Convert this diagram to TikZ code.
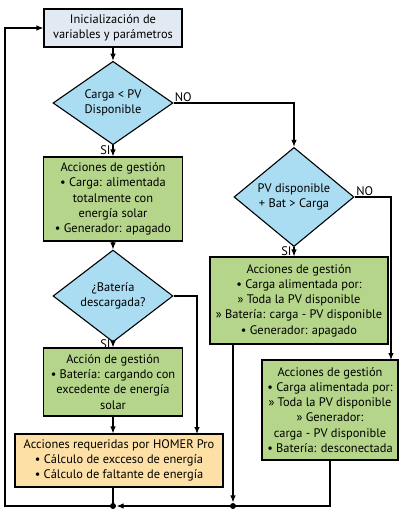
\documentclass[tikz,border=0pt]{standalone}
\usepackage{fontspec}
\setmainfont{PT Sans}
\usepackage{tikz}
\usetikzlibrary{arrows.meta}
\usetikzlibrary{shapes.geometric}
\definecolor{startfill}{HTML}{E1EAF2}
\definecolor{askfill}{HTML}{AADCF2}
\definecolor{actfill}{HTML}{B5D58A}
\definecolor{homerfill}{HTML}{FDE0A6}

\begin{document}
\begin{tikzpicture}[x=1pt,y=-1pt,line width=1.1pt,>={Latex[length=7pt,width=5.5pt]},
	every node/.style={font=\fontsize{12.4}{15.2}\selectfont, align=center, inner sep=0pt},
	box/.style={draw, rectangle, fill=actfill},
	ask/.style={draw, diamond, fill=askfill, minimum width=120pt, minimum height=69pt},
	dot/.style={circle, fill=black, minimum size=6pt}]
	
	\useasboundingbox (0,0) rectangle (400,516);
	
	\node[box, fill=startfill, minimum width=138pt, minimum height=38pt] (init) at (113,28) {Inicialización de\\variables y parámetros};
	\node[ask] (carga) at (113,103) {Carga < PV\\Disponible};
	\node[box, minimum width=139pt, minimum height=84pt] (solar) at (113,199) {Acciones de gestión\\• Carga: alimentada\\totalmente con\\energía solar\\• Generador: apagado};
	\node[ask] (bat) at (113,296) {¿Batería\\descargada?};
	\node[box, minimum width=139pt, minimum height=68pt] (cargando) at (113,382) {Acción de gestión\\• Batería: cargando con\\excedente de energía\\solar};
	\node[box, fill=homerfill, minimum width=208pt, minimum height=53pt] (homer) at (119,460.5) {Acciones requeridas por HOMER Pro\\• Cálculo de excceso de energía\\• Cálculo de faltante de energía};
	\node[ask] (pvbat) at (294,197) {PV disponible\\+ Bat > Carga};
	\node[box, minimum width=178pt, minimum height=87pt] (conbat) at (299,300.5) {Acciones de gestión\\• Carga alimentada por:\\» Toda la PV disponible\\» Batería: carga - PV disponible\\• Generador: apagado};
	\node[box, minimum width=136pt, minimum height=100pt] (congen) at (330,410) {Acciones de gestión\\• Carga alimentada por:\\» Toda la PV disponible\\» Generador:\\carga - PV disponible\\• Batería: desconectada};
	\node[dot] (fin) at (113,506) {};
	\node[dot] (junta) at (233,506) {};
	
	\draw[->] (init) -- (carga);
	\draw[->] (carga) -- node[pos=0.4, left=2pt] {SI} (solar);
	\draw[->] (carga.east) -- node[pos=0.08, above=1pt] {NO} (294,103) -- (pvbat.north);
	\draw[->] (solar) -- (bat);
	\draw[->] (bat) -- node[pos=0.4, left=2pt] {SI} (cargando);
	\draw[->] (bat.east) -- (197,296) -- (197,434);
	\draw[->] (cargando) -- (cargando |- homer.north);
	\draw[->] (pvbat) -- node[pos=0.4, left=2pt] {SI} (pvbat |- conbat.north);
	\draw[->] (pvbat.east) -- node[pos=0.28, above=1pt] {NO} (391,197) -- (391,360);
	\draw[->] (233,344) -- (junta);
	\draw (congen.south) -- (330,506) -- (junta.center);
	\draw[->] (junta.center) -- (fin);
	\draw (homer.south -| fin) -- (fin.center);
	\draw[->] (fin.center) -- (5,506) -- (5,28) -- (init.west);
\end{tikzpicture}
\end{document}
